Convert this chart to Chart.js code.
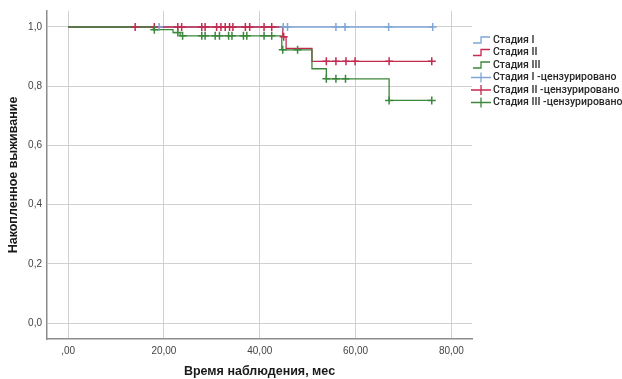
<!DOCTYPE html>
<html>
<head>
<meta charset="utf-8">
<script src="https://cdn.jsdelivr.net/npm/chart.js@4"></script>
<style>
  html, body { margin: 0; padding: 0; background: #fff; }
  #wrap { width: 622px; height: 379px; position: relative; }
</style>
</head>
<body>
<div id="wrap"><canvas id="km"></canvas></div>
<script>
// Kaplan-Meier curves
const xTicks = [0, 20, 40, 60, 80];
const yTicks = [0, 0.2, 0.4, 0.6, 0.8, 1.0];

// step points: time (months) and survival after that time
const stage1Time = [0, 76.1];
const stage1Surv = [1, 1];
const stage2Time = [0, 44.8, 45.5, 50.9, 75.9];
const stage2Surv = [1, 0.967, 0.928, 0.884, 0.884];
const stage3Time = [0, 17.8, 21.9, 23.4, 44.6, 50.9, 53.9, 67.0, 75.9];
const stage3Surv = [1, 0.991, 0.981, 0.970, 0.923, 0.859, 0.825, 0.752, 0.752];

// censored observations
const cens1Time = [19.0, 44.9, 45.8, 55.9, 57.8, 66.9, 76.1];
const cens1Surv = [1, 1, 1, 1, 1, 1, 1];
const cens2Time = [14.0, 18.0, 22.9, 23.7, 27.9, 28.6, 31.0, 31.9, 32.8, 33.7, 34.4, 37.0, 37.9, 40.9, 42.5, 45.0, 53.9, 55.9, 58.0, 59.9, 67.0, 75.9];
const cens2Surv = [1, 1, 1, 1, 1, 1, 1, 1, 1, 1, 1, 1, 1, 1, 1, 0.967, 0.884, 0.884, 0.884, 0.884, 0.884, 0.884];
const cens3Time = [18.0, 22.9, 23.9, 27.9, 28.6, 30.7, 31.6, 33.5, 34.2, 36.6, 37.3, 40.9, 42.5, 44.8, 47.9, 53.9, 55.9, 57.9, 67.0, 75.9];
const cens3Surv = [0.991, 0.981, 0.970, 0.970, 0.970, 0.970, 0.970, 0.970, 0.970, 0.970, 0.970, 0.970, 0.970, 0.923, 0.923, 0.825, 0.825, 0.825, 0.752, 0.752];

const legendLabels = ["Стадия I", "Стадия II", "Стадия III",
  "Стадия I -цензурировано", "Стадия II -цензурировано", "Стадия III -цензурировано"];
const xTitle = "Время наблюдения, мес";
const yTitle = "Накопленное выживание";

const BLUE = "#7fa6d6";
const RED = "#c42a50";
const GREEN = "#3b873b";

function pts(xs, ys) {
  return xs.map((x, i) => ({ x: x, y: ys[i] }));
}

function lineSet(label, xs, ys, color, order) {
  return {
    label: label, data: pts(xs, ys), stepped: true,
    borderColor: color, borderWidth: 1.3, pointRadius: 0, fill: false, order: order
  };
}

function censSet(label, xs, ys, color, order) {
  return {
    label: label, data: pts(xs, ys), showLine: false,
    pointStyle: "cross", pointRadius: 4, pointBorderWidth: 1.5,
    borderColor: color, backgroundColor: color, order: order
  };
}

// legend and axis titles drawn by hand, the plot itself by Chart.js
const extras = {
  id: "extras",
  afterDraw(chart) {
    const ctx = chart.ctx;
    const area = chart.chartArea;
    ctx.save();
    ctx.fillStyle = "#1a1a1a";
    ctx.font = "bold 12.5px 'Liberation Sans', Arial, sans-serif";
    ctx.textAlign = "center";
    ctx.textBaseline = "middle";
    ctx.fillText(xTitle, (area.left + area.right) / 2, 372);
    ctx.translate(14, (area.top + area.bottom) / 2);
    ctx.rotate(-Math.PI / 2);
    ctx.fillText(yTitle, 0, 0);
    ctx.restore();

    // legend
    const colors = [BLUE, RED, GREEN, BLUE, RED, GREEN];
    ctx.save();
    ctx.font = "500 10.5px Roboto, sans-serif";
    ctx.textAlign = "left";
    ctx.textBaseline = "middle";
    legendLabels.forEach((txt, i) => {
      const y = 40 + i * 12.5;
      ctx.strokeStyle = colors[i];
      ctx.lineWidth = 1.3;
      ctx.beginPath();
      if (i < 3) {
        ctx.moveTo(473, y + 3);
        ctx.lineTo(481, y + 3);
        ctx.lineTo(481, y - 3);
        ctx.lineTo(490, y - 3);
      } else {
        ctx.moveTo(471, y);
        ctx.lineTo(491, y);
        ctx.moveTo(481, y - 5);
        ctx.lineTo(481, y + 5);
      }
      ctx.stroke();
      ctx.fillStyle = "#262626";
      ctx.fillText(txt, 493, y);
    });
    ctx.restore();
  }
};

const tickFont = { family: "'Liberation Sans', Arial, sans-serif", size: 10 };

new Chart(document.getElementById("km"), {
  type: "line",
  data: {
    datasets: [
      censSet(legendLabels[3], cens1Time, cens1Surv, BLUE, 2),
      censSet(legendLabels[4], cens2Time, cens2Surv, RED, 1),
      censSet(legendLabels[5], cens3Time, cens3Surv, GREEN, 0),
      lineSet(legendLabels[0], stage1Time, stage1Surv, BLUE, 5),
      lineSet(legendLabels[1], stage2Time, stage2Surv, RED, 4),
      lineSet(legendLabels[2], stage3Time, stage3Surv, GREEN, 3)
    ]
  },
  options: {
    responsive: true,
    maintainAspectRatio: false,
    animation: false,
    layout: { padding: { left: 0, right: 150, top: 10, bottom: 0 } },
    plugins: { legend: { display: false }, tooltip: { enabled: false } },
    scales: {
      x: {
        type: "linear", min: -4.4, max: 84.3,
        afterBuildTicks: s => { s.ticks = xTicks.map(v => ({ value: v })); },
        afterFit: s => { s.height = 40; },
        grid: { color: "#d0d0d0", lineWidth: 1, drawTicks: false },
        border: { display: true, color: "#8c8c8c", width: 1.5 },
        ticks: {
          padding: 6, color: "#444", font: tickFont, maxRotation: 0,
          callback: v => v === 0 ? ",00" : v.toFixed(2).replace(".", ",")
        }
      },
      y: {
        type: "linear", min: -0.054, max: 1.054,
        afterBuildTicks: s => { s.ticks = yTicks.map(v => ({ value: v })); },
        afterFit: s => { s.width = 47; },
        grid: { color: "#d0d0d0", lineWidth: 1, drawTicks: false },
        border: { display: true, color: "#8c8c8c", width: 1.5 },
        ticks: {
          padding: 5, color: "#444", font: tickFont,
          callback: v => v.toFixed(1).replace(".", ",")
        }
      }
    }
  },
  plugins: [extras]
});
</script>
</body>
</html>
